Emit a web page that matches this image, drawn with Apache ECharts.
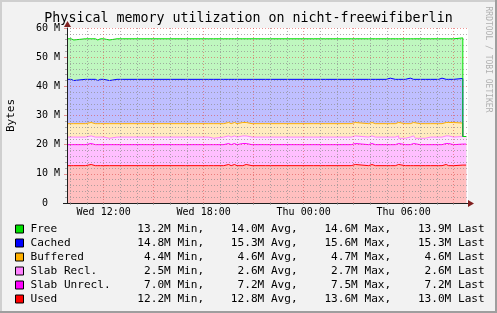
<!DOCTYPE html>
<html><head><meta charset="utf-8">
<script src="https://cdn.jsdelivr.net/npm/echarts@6/dist/echarts.min.js"></script>
<style>html,body{margin:0;padding:0;background:#f2f2f2;}#c{width:497px;height:313px;}</style>
</head><body><div id="c"></div>
<script>
// time breakpoints in hours since Wed 00:00 (value holds until next breakpoint)
const hours = [9.8,10.05,10.2,10.9,11.25,11.5,11.65,11.8,11.9,12.0,
  12.1,12.35,12.4,12.8,12.9,13.15,13.25,14.0,14.1,16.9,
  17.0,18.3,18.4,18.6,19.2,19.5,19.65,19.85,20.0,20.35,
  20.55,20.9,21.0,21.7,21.8,22.0,22.1,24.6,24.7,25.0,
  25.1,25.3,25.4,26.85,27.1,27.9,28.1,28.3,28.4,28.95,
  29.2,29.5,29.6,29.7,30.1,30.2,30.4,30.5,30.6,30.7,
  31.0,31.1,31.3,31.4,31.6,31.7,32.1,32.3,32.4,32.55,
  32.7,33.0,33.55,33.75];
// values in MiB
const used = [12.8,12.8,12.8,13.2,12.8,12.8,12.8,13.2,12.8,12.8,
  12.8,12.8,12.8,12.8,12.8,12.8,12.8,12.8,12.8,12.4,
  12.8,12.8,12.8,12.8,13.2,12.8,13.2,12.8,12.8,13.2,
  12.8,12.8,12.8,12.8,12.8,12.8,12.8,12.8,12.8,12.8,
  12.8,13.2,12.8,13.2,12.8,13.2,12.8,13.2,12.8,12.8,
  12.8,12.8,13.2,12.8,12.8,12.8,12.8,12.8,12.8,12.8,
  12.8,12.8,13.2,12.8,13.2,12.8,12.8,13.2,13.2,12.8,
  12.8,13.0,13.0,13.0];
const slabUnrecl = [7.2,7.2,7.2,7.2,7.2,7.2,7.2,7.2,7.2,7.2,
  7.2,7.2,7.2,7.2,7.2,7.2,7.2,7.2,7.2,7.2,
  7.2,7.2,7.2,7.2,7.2,7.2,7.2,7.2,7.6,7.2,
  7.2,7.6,7.2,7.6,7.2,7.6,7.2,7.6,7.2,7.2,
  7.2,7.2,7.2,7.2,7.2,7.2,7.2,7.2,7.2,7.2,
  7.2,7.2,7.2,7.2,7.2,7.2,7.2,7.6,7.2,7.2,
  7.2,7.2,7.2,7.2,7.2,7.2,7.2,7.2,7.2,7.6,
  7.2,7.2,7.2,7.2];
const slabRecl = [2.6,2.6,2.6,2.6,2.6,2.6,2.6,2.6,2.6,2.2,
  2.2,2.2,2.6,2.6,2.6,2.6,2.6,2.6,2.6,2.6,
  2.6,2.2,2.2,2.6,2.6,2.6,2.6,2.6,2.6,2.6,
  2.6,2.6,2.6,2.6,2.6,2.6,2.6,2.6,2.6,2.6,
  2.6,2.6,2.6,2.6,2.6,2.6,2.6,2.6,2.6,2.6,
  2.6,2.6,2.6,2.2,2.6,2.6,2.6,2.6,2.6,2.2,
  2.2,2.2,2.2,2.6,2.6,2.6,2.6,2.6,2.6,2.6,
  2.6,2.6,2.6,2.6];
const buffered = [4.6,4.6,4.6,4.6,4.6,4.6,4.6,4.6,4.6,5.0,
  5.0,5.0,4.6,4.6,4.6,4.6,4.6,4.6,4.6,4.6,
  4.6,5.0,5.0,4.6,4.6,4.6,4.6,4.6,4.6,4.6,
  4.6,4.2,4.6,4.2,4.6,4.2,4.6,4.6,4.6,4.6,
  4.6,4.6,4.6,4.6,4.6,4.6,4.6,4.6,4.6,4.6,
  4.6,4.6,4.6,5.0,4.6,4.6,4.6,4.6,4.6,5.0,
  5.0,5.0,5.0,4.6,4.6,4.6,4.6,4.6,4.6,4.6,
  5.0,4.6,0,0];
const cached = [15.2,14.8,15.2,14.8,15.2,14.8,15.2,14.8,15.2,15.2,
  14.8,15.2,15.2,14.8,15.2,15.2,15.2,15.2,15.2,15.2,
  15.2,15.2,15.2,15.2,14.8,15.2,14.8,15.2,14.8,14.8,
  15.2,15.2,15.2,15.2,15.2,15.2,15.2,14.8,15.2,15.2,
  15.2,14.8,15.2,14.8,15.2,14.8,15.2,14.8,15.2,15.6,
  15.2,15.6,14.8,15.2,15.2,15.6,15.2,14.8,15.2,15.2,
  15.6,15.2,14.8,15.2,15.2,15.2,15.6,15.2,14.8,14.8,
  14.8,15.3,0,0];
const free = [13.9,13.9,13.9,13.9,13.9,13.9,13.9,13.9,13.9,13.9,
  13.9,13.9,13.9,13.9,13.9,13.5,13.9,13.5,13.9,13.9,
  13.9,13.5,13.9,13.9,13.9,13.9,13.9,13.9,13.9,13.9,
  13.9,13.9,13.9,13.9,13.9,13.9,13.9,13.9,13.9,13.5,
  13.9,13.9,13.9,13.9,13.9,13.9,13.9,13.9,13.9,13.5,
  13.9,13.5,13.9,13.9,13.9,13.5,13.9,13.9,13.9,13.9,
  13.5,13.9,13.9,13.9,13.5,13.9,13.5,13.5,13.9,13.9,
  13.9,13.9,0,0];

// stacking order, bottom to top
const stackNames = ['Used','Slab Unrecl.','Slab Recl.','Buffered','Cached','Free'];
const stackValues = [used, slabUnrecl, slabRecl, buffered, cached, free];
const stackColors = ['#ff0000','#ff00ff','#ff80ff','#ffb000','#0000ff','#00e000'];

const yTickLabels = {0:'0  ',10:'10 M',20:'20 M',30:'30 M',40:'40 M',50:'50 M',60:'60 M'};
const yMajor = [10,20,30,40,50,60];
const yMinor = [2,4,6,8,12,14,16,18,22,24,26,28,32,34,36,38,42,44,46,48,52,54,56,58];
const minorHours = [10,11,13,14,16,17,19,20,22,23,25,26,28,29,31,32];
const majorHours = [12,15,18,21,24,27,30,33];
const labelHours = [12,18,24,30];
const labelTexts = ['Wed 12:00','Wed 18:00','Thu 00:00','Thu 06:00'];

const legendNames = ['Free','Cached','Buffered','Slab Recl.','Slab Unrecl.','Used'];
const legendColors = ['#00e000','#0000ff','#ffb000','#ff80ff','#ff00ff','#ff0000'];
const legendMin = [13.2,14.8,4.4,2.5,7.0,12.2];
const legendAvg = [14.0,15.3,4.6,2.6,7.2,12.8];
const legendMax = [14.6,15.6,4.7,2.7,7.5,13.6];
const legendLast = [13.9,15.3,4.6,2.6,7.2,13.0];

const MONO = "'DejaVu Sans Mono', monospace";
function tint(hex, a){const n=parseInt(hex.slice(1),16);const c=[n>>16,(n>>8)&255,n&255].map(v=>Math.round(255-(255-v)*a));return 'rgb('+c.join(',')+')';}
function f1(v){return v.toFixed(1).padStart(4);}

// cumulative stack tops
const stackTops = [];
let run = hours.map(() => 0);
stackValues.forEach(arr => { run = run.map((v,i) => +(v + arr[i]).toFixed(3)); stackTops.push(run); });

const gridMinor = 'rgba(143,143,143,0.7)';
const gridMajor = 'rgba(222,79,79,0.6)';

const markData = [];
yMinor.forEach(v => markData.push({yAxis:v, lineStyle:{color:gridMinor,type:[1,2],width:1}, label:{show:false}}));
yMajor.forEach(v => markData.push({yAxis:v, lineStyle:{color:gridMajor,type:[1,2],width:1}, label:{show:false}}));
minorHours.forEach(h => markData.push({xAxis:h, lineStyle:{color:gridMinor,type:[1,2],width:1}, label:{show:false}}));
majorHours.forEach(h => {
  const li = labelHours.indexOf(h);
  markData.push({xAxis:h, lineStyle:{color:gridMajor,type:[1,2],width:1},
    label: li>=0 ? {show:true, position:'start', distance:4, formatter:labelTexts[li], color:'#000', fontFamily:MONO, fontSize:10} : {show:false}});
});

const series = [];
// filled bands: draw from the top layer down so each lower band covers the one above
for (let k = stackNames.length - 1; k >= 0; k--) {
  series.push({
    name: stackNames[k] + ' area', type:'line', step:'end', symbol:'none', showSymbol:false,
    z: 2, silent:true, lineStyle:{opacity:0, width:0},
    areaStyle:{color:tint(stackColors[k],0.25), opacity:1},
    data: hours.map((h,i)=>[h, stackTops[k][i]])
  });
}
// grid lines above the fills
series.push({
  type:'line', data:[], z:3, silent:true, symbol:'none',
  markLine:{symbol:'none', silent:true, animation:false, data:markData}
});
// stack top lines
stackNames.forEach((name,k) => {
  series.push({
    name, type:'line', step:'end', symbol:'none', showSymbol:false,
    z: 4, silent:true,
    lineStyle:{color:stackColors[k], width:1},
    data: hours.map((h,i)=>[h, stackTops[k][i]])
  });
});

const graphic = [
  {type:'rect', shape:{x:0,y:0,width:497,height:2}, style:{fill:'#cfcfcf'}, silent:true},
  {type:'rect', shape:{x:0,y:0,width:2,height:313}, style:{fill:'#cfcfcf'}, silent:true},
  {type:'rect', shape:{x:0,y:311,width:497,height:2}, style:{fill:'#9e9e9e'}, silent:true},
  {type:'rect', shape:{x:495,y:0,width:2,height:313}, style:{fill:'#9e9e9e'}, silent:true},
  // axis arrows
  {type:'polygon', shape:{points:[[468,200],[474,203.5],[468,207]]}, style:{fill:'#801f1f'}, silent:true, z:100},
  {type:'polygon', shape:{points:[[64,27],[67.5,21],[71,27]]}, style:{fill:'#801f1f'}, silent:true, z:100},
  {type:'line', shape:{x1:63,y1:203.5,x2:67,y2:203.5}, style:{stroke:'#1f1f1f',lineWidth:1}, silent:true, z:100},
  {type:'text', x:10.7, y:115.5, rotation:Math.PI/2, silent:true,
    style:{text:'Bytes', font:"11px "+MONO, fill:'#000', align:'center', verticalAlign:'middle'}},
  {type:'text', x:488.3, y:59.5, rotation:-Math.PI/2, silent:true,
    style:{text:'RRDTOOL / TOBI OETIKER', font:"8px "+MONO, fill:'#b0b0b0', align:'center', verticalAlign:'middle'}}
];
const rowY = [229,243,257,271,285,299];
legendNames.forEach((n,i) => {
  graphic.push({type:'rect', shape:{x:15.5,y:rowY[i]-4,width:8,height:8}, style:{fill:legendColors[i], stroke:'#000', lineWidth:1}, silent:true});
  const line = n.padEnd(16) + f1(legendMin[i]) + 'M Min,    ' + f1(legendAvg[i]) + 'M Avg,    ' +
    f1(legendMax[i]) + 'M Max,    ' + f1(legendLast[i]) + 'M Last';
  graphic.push({type:'text', x:30.5, y:rowY[i], silent:true,
    style:{text:line, font:"11.1px "+MONO, fill:'#000', align:'left', verticalAlign:'middle'}});
});

const chart = echarts.init(document.getElementById('c'), null, {renderer:'canvas'});
chart.setOption({
  animation:false,
  backgroundColor:'#f2f2f2',
  title:{text:'Physical memory utilization on nicht-freewifiberlin', left:'center', top:12, padding:0,
    textStyle:{fontFamily:MONO, fontSize:13.3, fontWeight:'normal', color:'#000'}},
  grid:{left:67, top:28, width:401, height:175, show:true, backgroundColor:'#ffffff', borderWidth:0, containLabel:false},
  xAxis:{type:'value', min:9.8, max:33.86, z:10,
    axisLine:{show:true, onZero:false, lineStyle:{color:'#1f1f1f', width:1}},
    axisTick:{show:true, length:2, customValues:minorHours.concat(majorHours), lineStyle:{color:gridMinor}},
    axisLabel:{show:false}, splitLine:{show:false}},
  yAxis:{type:'value', min:0, max:60, interval:10, z:10,
    axisLine:{show:true, lineStyle:{color:'#1f1f1f', width:1}},
    axisTick:{show:true, length:3, lineStyle:{color:gridMajor}},
    minorTick:{show:true, splitNumber:5, length:2, lineStyle:{color:gridMinor}},
    axisLabel:{margin:7, color:'#000', fontFamily:MONO, fontSize:10, formatter:v => yTickLabels[v] || ''},
    splitLine:{show:false}, minorSplitLine:{show:false}},
  graphic,
  series
});
</script></body></html>
